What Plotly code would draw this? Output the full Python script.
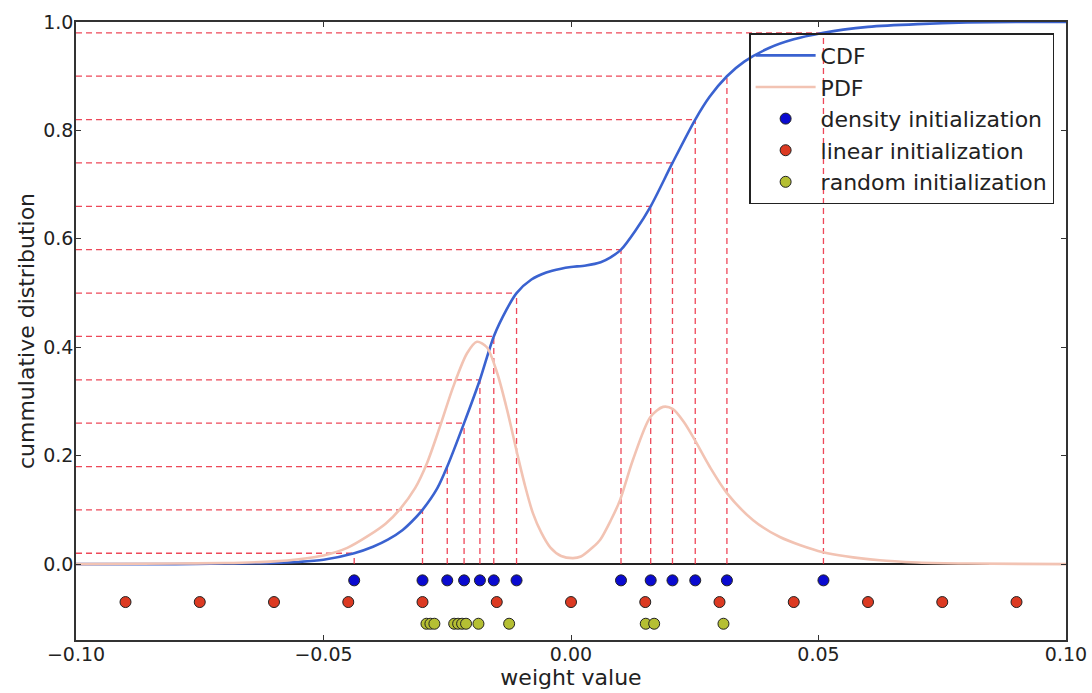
import plotly.graph_objects as go

# ---------------- data ----------------
cdf_x = [-0.100, -0.080, -0.070, -0.060, -0.055, -0.050, -0.0438, -0.040, -0.037, -0.034,
         -0.032, -0.030, -0.027, -0.025, -0.0216, -0.0184, -0.0156, -0.013, -0.011, -0.008,
         -0.005, -0.002, 0.000, 0.003, 0.006, 0.008, 0.0101, 0.013, 0.0161, 0.0205,
         0.0251, 0.028, 0.0315, 0.035, 0.040, 0.045, 0.051, 0.055, 0.060, 0.070,
         0.080, 0.090, 0.100]
cdf_y = [0.000, 0.000, 0.001, 0.002, 0.004, 0.008, 0.020, 0.032, 0.045, 0.063,
         0.080, 0.100, 0.140, 0.180, 0.260, 0.340, 0.420, 0.470, 0.500, 0.525,
         0.538, 0.545, 0.548, 0.551, 0.557, 0.566, 0.580, 0.615, 0.660, 0.740,
         0.820, 0.862, 0.900, 0.927, 0.952, 0.968, 0.980, 0.986, 0.991, 0.996,
         0.999, 1.000, 1.000]

pdf_x = [-0.100, -0.080, -0.070, -0.060, -0.055, -0.050, -0.0452, -0.041, -0.0374, -0.0345,
         -0.0315, -0.0291, -0.0265, -0.0238, -0.021, -0.019, -0.017, -0.0149, -0.0129, -0.0109,
         -0.0093, -0.0077, -0.006, -0.0042, -0.002, 0.0004, 0.002, 0.0044, 0.0059, 0.008,
         0.0099, 0.0125, 0.016, 0.0186, 0.0206, 0.0228, 0.025, 0.028, 0.0315, 0.0368,
         0.0422, 0.0509, 0.0624, 0.070, 0.080, 0.100]
pdf_y = [0.000, 0.001, 0.002, 0.005, 0.009, 0.016, 0.030, 0.052, 0.075, 0.102,
         0.140, 0.186, 0.253, 0.327, 0.389, 0.410, 0.400, 0.352, 0.284, 0.205,
         0.145, 0.094, 0.058, 0.031, 0.015, 0.011, 0.014, 0.031, 0.045, 0.080,
         0.118, 0.192, 0.271, 0.290, 0.286, 0.262, 0.229, 0.180, 0.131, 0.081,
         0.050, 0.022, 0.007, 0.003, 0.001, 0.000]

density_x = [-0.0438, -0.0300, -0.0250, -0.0216, -0.0184, -0.0156, -0.0110,
             0.0101, 0.0161, 0.0205, 0.0251, 0.0315, 0.0510]
density_levels = [0.02, 0.10, 0.18, 0.26, 0.34, 0.42, 0.50,
                  0.58, 0.66, 0.74, 0.82, 0.90, 0.98]

linear_x = [-0.090, -0.075, -0.060, -0.045, -0.030, -0.015, 0.000,
            0.015, 0.030, 0.045, 0.060, 0.075, 0.090]

random_x = [-0.0292, -0.0284, -0.0276, -0.0236, -0.0228, -0.0220, -0.0212,
            -0.0187, -0.0125, 0.0151, 0.0168, 0.0308]

row_y = {"density": -0.03, "linear": -0.07, "random": -0.11}

x_ticks = [-0.10, -0.05, 0.00, 0.05, 0.10]
x_tick_labels = ["\u22120.10", "\u22120.05", "0.00", "0.05", "0.10"]
y_ticks = [0.0, 0.2, 0.4, 0.6, 0.8, 1.0]
y_tick_labels = ["0.0", "0.2", "0.4", "0.6", "0.8", "1.0"]
x_range = [-0.10, 0.10]
y_range = [-0.14, 1.0]

# ---------------- figure ----------------
FONT = "DejaVu Sans, Liberation Sans, sans-serif"
fig = go.Figure()

# dashed guide lines (horizontal to CDF, vertical down to 0)
hx, hy, vx, vy = [], [], [], []
for xv, lv in zip(density_x, density_levels):
    hx += [x_range[0], xv, None]
    hy += [lv, lv, None]
    vx += [xv, xv, None]
    vy += [0, lv, None]
dash_style = dict(color="rgba(235,40,60,0.85)", width=1.3, dash="6px,4px")
fig.add_trace(go.Scatter(x=hx, y=hy, mode="lines", line=dash_style,
                         showlegend=False, hoverinfo="skip"))
fig.add_trace(go.Scatter(x=vx, y=vy, mode="lines", line=dash_style,
                         showlegend=False, hoverinfo="skip"))

fig.add_trace(go.Scatter(x=cdf_x, y=cdf_y, mode="lines", name="CDF",
                         line=dict(color="#3a62d0", width=2.6, shape="spline", smoothing=0.8)))
fig.add_trace(go.Scatter(x=pdf_x, y=pdf_y, mode="lines", name="PDF",
                         line=dict(color="#f2c3b3", width=2.6, shape="spline", smoothing=0.8)))

mk_line = dict(color="#222222", width=1)
fig.add_trace(go.Scatter(x=density_x, y=[row_y["density"]] * len(density_x), mode="markers",
                         name="density initialization",
                         marker=dict(size=11, color="#0a0ad0", line=mk_line)))
fig.add_trace(go.Scatter(x=linear_x, y=[row_y["linear"]] * len(linear_x), mode="markers",
                         name="linear initialization",
                         marker=dict(size=11, color="#dc3a22", line=mk_line)))
fig.add_trace(go.Scatter(x=random_x, y=[row_y["random"]] * len(random_x), mode="markers",
                         name="random initialization",
                         marker=dict(size=11, color="#b5bf33", line=mk_line)))

axis_common = dict(showline=True, linecolor="#333333", linewidth=1.6, mirror="allticks",
                   ticks="inside", ticklen=5, tickwidth=1.2, tickcolor="#333333",
                   showgrid=False, automargin=False,
                   tickfont=dict(family=FONT, size=19, color="#222222"))

fig.update_xaxes(range=x_range, tickvals=x_ticks, ticktext=x_tick_labels,
                 zeroline=False, ticklabelstandoff=-4,
                 title=dict(text="weight value", font=dict(family=FONT, size=22, color="#222222"),
                            standoff=2),
                 **axis_common)
fig.update_yaxes(range=y_range, tickvals=y_ticks, ticktext=y_tick_labels,
                 zeroline=True, zerolinecolor="#222222", zerolinewidth=1.6,
                 ticklabelstandoff=-3,
                 title=dict(text="cummulative distribution",
                            font=dict(family=FONT, size=22, color="#222222"), standoff=2),
                 **axis_common)

fig.update_layout(
    width=1092, height=693,
    margin=dict(l=76, r=26, t=22, b=53),
    paper_bgcolor="white", plot_bgcolor="white",
    font=dict(family=FONT, color="#222222"),
    legend=dict(x=0.988, y=0.982, xanchor="right", yanchor="top", itemwidth=60,
                bgcolor="rgba(0,0,0,0)", bordercolor="#222222", borderwidth=1.5,
                font=dict(family=FONT, size=22, color="#222222")),
)

fig.write_html("out.html")
